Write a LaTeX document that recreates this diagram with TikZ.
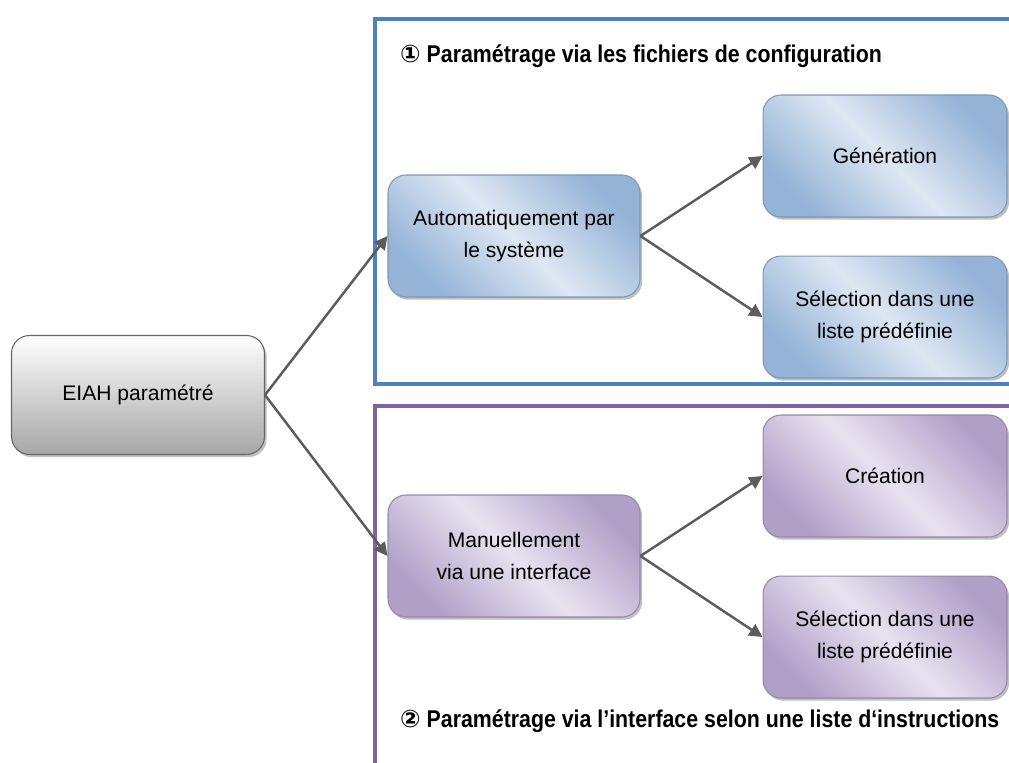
\documentclass[tikz,border=0pt]{standalone}
\usepackage{fontspec}
\setmainfont{Liberation Sans}
\newfontfamily\titlefont[FakeStretch=0.88]{Liberation Sans}
\newfontfamily\circfont{DejaVu Sans}
\usetikzlibrary{arrows.meta, positioning, shadows}

\definecolor{frameblue}{RGB}{79,129,189}
\definecolor{framepurple}{RGB}{128,100,162}
\definecolor{blueDark}{RGB}{148,179,215}
\definecolor{blueLight}{RGB}{222,231,243}
\definecolor{purpleDark}{RGB}{176,160,200}
\definecolor{purpleLight}{RGB}{232,226,240}
\definecolor{arrowgray}{RGB}{92,92,92}

\begin{document}
\begin{tikzpicture}[
    x=0.02cm, y=-0.02cm,
    box/.style={rectangle, rounded corners=0.36cm, minimum width=5.04cm, minimum height=2.44cm,
      align=center, font=\fontsize{12}{18}\selectfont, line width=0.6pt,
      drop shadow={shadow xshift=1.2pt, shadow yshift=-1.5pt, opacity=0.45, fill=black!55}},
    bluebox/.style={box, draw=blueDark!85!black, top color=blueDark, bottom color=blueDark,
      middle color=blueLight, shading angle=-45},
    purplebox/.style={box, draw=purpleDark!85!black, top color=purpleDark, bottom color=purpleDark,
      middle color=purpleLight, shading angle=-45},
    leafbox/.style={minimum width=4.88cm},
    graybox/.style={box, minimum width=5.06cm, minimum height=2.38cm, draw=black!60,
      top color=white, bottom color=black!35},
    link/.style={draw=arrowgray, line width=1.4pt, -{Triangle[length=7.5pt, width=7.5pt]}},
    frametitle/.style={anchor=west, font=\titlefont\bfseries\fontsize{13.8}{16}\selectfont}
  ]
  \useasboundingbox (0,0) rectangle (1009,763);

  % frames
  \draw[frameblue, line width=2.3pt] (1012,19) -- (375,19) -- (375,384) -- (1012,384);
  \draw[framepurple, line width=2.3pt] (1012,406) -- (375,406) -- (375,766);

  \node[frametitle] (title1) at (394,56) {{\circfont ①} Paramétrage via les fichiers de configuration};
  \node[frametitle] (title2) at (394,721) {{\circfont ②} Paramétrage via l’interface selon une liste d‘instructions};

  % nodes
  \node[graybox] (eiah) at (138,395) {EIAH paramétré};

  \node[bluebox] (auto) at (514,236) {Automatiquement par\\le système};
  \node[bluebox, leafbox] (gen) at (885,156) {Génération};
  \node[bluebox, leafbox, below=0.76cm of gen] (sel1) {Sélection dans une\\liste prédéfinie};

  \node[purplebox] (manu) at (514,556) {Manuellement\\via une interface};
  \node[purplebox, leafbox] (crea) at (885,476) {Création};
  \node[purplebox, leafbox, below=0.76cm of crea] (sel2) {Sélection dans une\\liste prédéfinie};

  % arrows
  \draw[link] (eiah.east) -- (auto.west);
  \draw[link] (eiah.east) -- (manu.west);
  \draw[link] (auto.east) -- (gen.west);
  \draw[link] (auto.east) -- (sel1.west);
  \draw[link] (manu.east) -- (crea.west);
  \draw[link] (manu.east) -- (sel2.west);
\end{tikzpicture}
\end{document}
